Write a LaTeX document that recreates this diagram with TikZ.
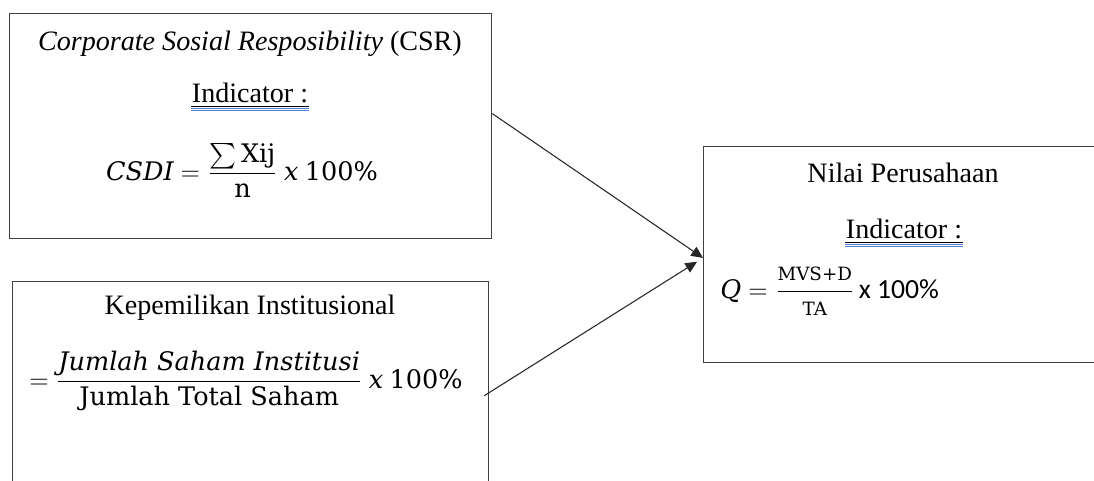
\documentclass[tikz,border=0pt]{standalone}
\usepackage{amsmath}
\usepackage{fontspec}
\setmainfont{Liberation Serif}
\newfontfamily\calibrifont{Carlito}
\newfontfamily\cambria{DejaVu Serif}
\usetikzlibrary{arrows.meta,positioning}
\definecolor{boxgray}{RGB}{64,64,64}
\definecolor{spellblue}{RGB}{80,125,215}
\newcommand{\cu}[1]{\text{\cambria #1}}
\newcommand{\ci}[1]{\text{\cambria\itshape #1}}
\tikzset{
	varbox/.style   = {shape=rectangle, draw=boxgray, line width=0.65pt,
		anchor=north west, inner sep=0pt},
	txt/.style      = {inner sep=0pt, anchor=base},
	formula/.style  = {inner sep=0pt, anchor=base, font=\fontsize{12}{14}\selectfont},
	uline/.style    = {draw=black, line width=0.4pt},
	spell/.style    = {draw=spellblue, line width=0.35pt},
	arrowline/.style = {draw=black!85, line width=0.5pt,
		-{Triangle[length=5.5pt,width=5pt]}}
}

\begin{document}
\begin{tikzpicture}
	[
	x = 0.47pt,
	y = -0.47pt,
	every node/.style = {font=\fontsize{13.2}{15}\selectfont}
	]
	\useasboundingbox (0,0) rectangle (1094,480);
	\clip (0,0) rectangle (1094,480);
	% boxes
	\node [varbox, minimum width=482*0.47pt, minimum height=225*0.47pt] (csr) at (9,13) {};
	\node [varbox, minimum width=476*0.47pt, minimum height=228*0.47pt] (kep) at (12,281) {};
	\node [varbox, minimum width=450*0.47pt, minimum height=216*0.47pt] (nilai) at (703,146) {};
	% texts
	\node [txt] (csrtitle) at (250,50) {\textit{Corporate Sosial Resposibility} (CSR)};
	\node [txt] (ind1) at (250,102) {Indicator :};
	\node [formula] (csrform) at (242,180)
		{$\displaystyle \ci{CSDI} = \frac{\sum\cu{Xij}}{\cu{n}}\ \ci{x}\ \cu{100\%}$};
	\node [txt] (keptitle) at (250,314) {Kepemilikan Institusional};
	\node [formula] (kepform) at (246,388)
		{$\displaystyle = \frac{\ci{Jumlah Saham Institusi}}{\cu{Jumlah Total Saham}}\ \ci{x}\ \cu{100\%}$};
	\node [txt] (nilaititle) at (903,182) {Nilai Perusahaan};
	\node [txt] (ind3) at (904,238) {Indicator :};
	\node [formula, anchor=base west] (nilaiform) at (720,298)
		{$\ci{Q} = \dfrac{\cu{\fontsize{8.6}{10}\selectfont MVS+D}}{\cu{\fontsize{8.6}{10}\selectfont TA}}$\,{\calibrifont\fontsize{13}{15}\selectfont x 100\%}};
	\foreach \n in {ind1,ind3} {
		\draw [uline] ([yshift=-1.9pt]\n.base west) -- ([yshift=-1.9pt]\n.base east);
		\draw [spell] ([yshift=-3.0pt]\n.base west) -- ([yshift=-3.0pt]\n.base east);
		\draw [spell] ([yshift=-4.1pt]\n.base west) -- ([yshift=-4.1pt]\n.base east);
	}
	% arrows
	\draw [arrowline] ([yshift=5.9pt]csr.east) -- ([yshift=-1.5pt]nilai.west);
	\draw [arrowline] ([xshift=-2.4pt]kep.east) -- ([xshift=-2.8pt,yshift=-3.3pt]nilai.west);
\end{tikzpicture}
\end{document}
